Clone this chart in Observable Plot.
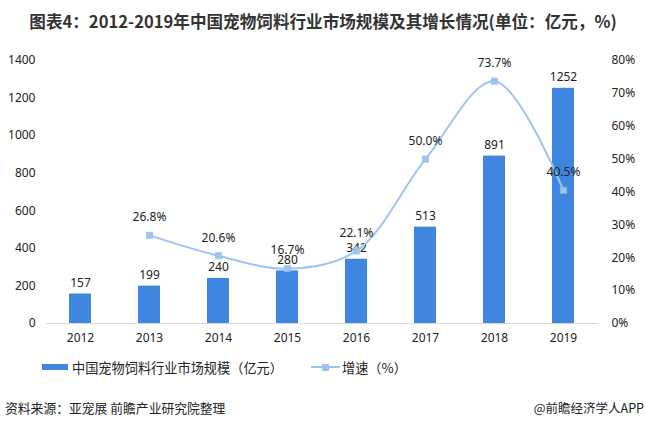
<!DOCTYPE html>
<html><head><meta charset="utf-8">
<script src="https://cdn.jsdelivr.net/npm/d3@7"></script>
<script src="https://cdn.jsdelivr.net/npm/@observablehq/plot@0.6"></script>
<style>
body{margin:0;background:#fff;font-family:"Noto Sans","Noto Sans CJK SC",sans-serif;}
#wrap{position:relative;width:646px;height:429px;overflow:hidden;}
#wrap svg{position:absolute;left:0;top:0;}
.t{position:absolute;white-space:nowrap;color:#222;font-family:'Noto Sans CJK SC',sans-serif;}
</style></head><body>
<div id="wrap">
<div class="t" style="left:0;width:646px;top:9px;text-align:center;font-size:16.6px;font-weight:bold;color:#333;">图表4：2012-2019年中国宠物饲料行业市场规模及其增长情况(单位：亿元，%)</div>
<div class="t" style="left:42px;top:358px;font-size:13.2px;"><span style="display:inline-block;width:26px;height:6px;background:#3F86E0;vertical-align:middle;margin-right:4px;position:relative;top:-2px"></span>中国宠物饲料行业市场规模（亿元）</div>
<div class="t" style="left:311px;top:358px;font-size:13.2px;"><span style="display:inline-block;width:29px;height:2px;background:#9EC4F4;vertical-align:middle;margin-right:2px;position:relative;top:-2px"><span style="position:absolute;left:11px;top:-2.5px;width:7px;height:7px;background:#9EC4F4"></span></span>增速（%）</div>
<div class="t" style="left:5px;top:398px;font-size:12.8px;">资料来源：亚宠展 前瞻产业研究院整理</div>
<div class="t" style="right:2px;top:398px;font-size:12.5px;">@前瞻经济学人APP</div>
</div>
<script>
const years = ["2012","2013","2014","2015","2016","2017","2018","2019"];
const marketSize = [157,199,240,280,342,513,891,1252];
const growthYears = ["2013","2014","2015","2016","2017","2018","2019"];
const growthRate = [26.8,20.6,16.7,22.1,50.0,73.7,40.5];
const leftTicks = [0,200,400,600,800,1000,1200,1400];
const rightTicks = [0,10,20,30,40,50,60,70,80];

const leftMax = 1400, rightMax = 80, k = leftMax/rightMax;
const bars = years.map((y,i)=>({year:y, v:marketSize[i]}));
const growth = growthYears.map((y,i)=>({year:y, g:growthRate[i], v:growthRate[i]*k}));

const chart = Plot.plot({
  width:646, height:429,
  marginTop:60, marginBottom:106, marginLeft:46, marginRight:48,
  style:{fontFamily:"'Noto Sans',sans-serif", fontSize:"12px", color:"#222", background:"transparent"},
  x:{domain:years, paddingInner:0.68, paddingOuter:0.34, label:null},
  y:{domain:[0,leftMax], label:null},
  marks:[
    Plot.axisY({ticks:leftTicks, tickFormat:d=>String(d), tickSize:0, tickPadding:11, label:null, fontSize:12}),
    Plot.axisY({anchor:"right", ticks:rightTicks.map(d=>d*k), tickFormat:d=>Math.round(d/k)+"%", tickSize:0, tickPadding:13, textAnchor:"start", label:null, fontSize:12}),
    Plot.axisX({tickSize:0, tickPadding:10, label:null, fontSize:12}),
    Plot.ruleY([0], {stroke:"#d9d9d9", strokeWidth:1}),
    Plot.barY(bars, {x:"year", y:"v", fill:"#3F86E0"}),
    Plot.text(bars, {x:"year", y:"v", text:d=>String(d.v), dy:-11, fontSize:12, fill:"#222"}),
    Plot.line(growth, {x:"year", y:"v", stroke:"#9EC4F4", strokeWidth:2, curve:"catmull-rom"}),
    Plot.dot(growth, {x:"year", y:"v", symbol:"square", r:3.6, fill:"#9EC4F4", stroke:"#8FB8EE", strokeWidth:0.5}),
    Plot.text(growth, {x:"year", y:"v", text:d=>d.g.toFixed(1)+"%", dy:-18, fontSize:12, fill:"#222"})
  ]
});
document.getElementById("wrap").prepend(chart);
</script>
</body></html>
